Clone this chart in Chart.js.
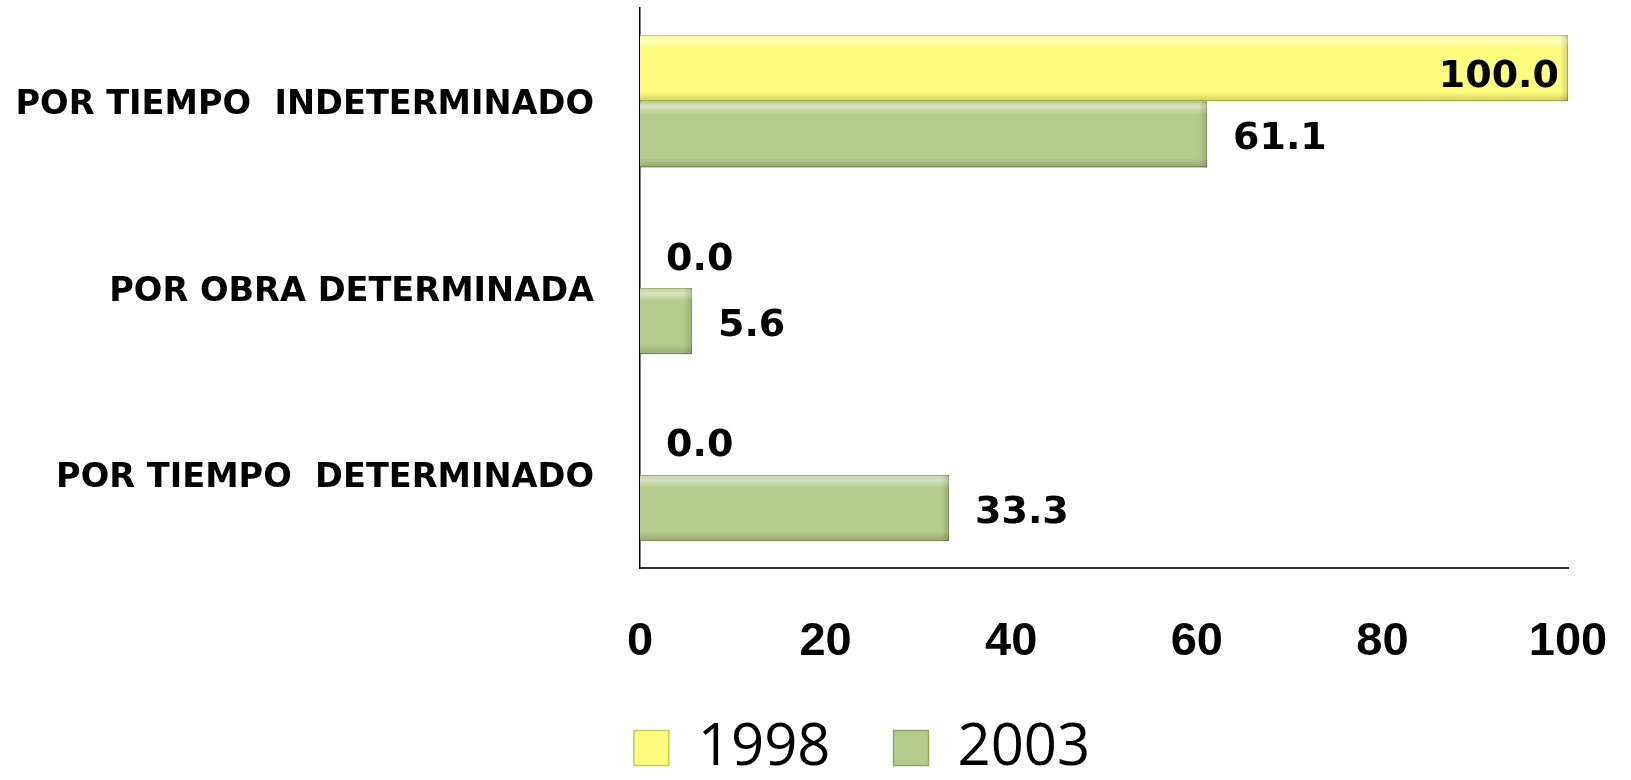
<!DOCTYPE html>
<html><head><meta charset="utf-8">
<script src="https://cdn.jsdelivr.net/npm/chart.js@4/dist/chart.umd.min.js"></script>
<style>html,body{margin:0;padding:0;background:#fff;overflow:hidden}#wrap{width:1631px;height:780px}</style>
</head><body><div id="wrap"><canvas id="c" width="1631" height="780"></canvas></div>
<script>
const categories = ['POR TIEMPO  INDETERMINADO', 'POR OBRA DETERMINADA', 'POR TIEMPO  DETERMINADO'];
const seriesNames = ['1998', '2003'];
const values1998 = [100.0, 0.0, 0.0];
const values2003 = [61.1, 5.6, 33.3];
const xMin = 0, xMax = 100, xStep = 20;

const bevel = {
  id: 'bevel',
  afterDatasetsDraw(chart) {
    const ctx = chart.ctx;
    chart.data.datasets.forEach((ds, di) => {
      chart.getDatasetMeta(di).data.forEach(bar => {
        const p = bar.getProps(['x', 'y', 'base', 'height'], true);
        const l = Math.min(p.x, p.base), r = Math.max(p.x, p.base), w = r - l;
        if (w < 1) return;
        const t = p.y - p.height / 2, h = p.height;
        ctx.save();
        const g = ctx.createLinearGradient(0, t, 0, t + h);
        g.addColorStop(0, 'rgba(255,255,255,0.10)');
        g.addColorStop(0.08, 'rgba(255,255,255,0.45)');
        g.addColorStop(0.2, 'rgba(255,255,255,0.0)');
        g.addColorStop(0.86, 'rgba(0,0,0,0.0)');
        g.addColorStop(1, 'rgba(0,0,0,0.18)');
        ctx.fillStyle = g;
        ctx.fillRect(l, t, w, h);
        const g2 = ctx.createLinearGradient(r - 8, 0, r, 0);
        g2.addColorStop(0, 'rgba(0,0,0,0)');
        g2.addColorStop(1, 'rgba(0,0,0,0.15)');
        ctx.fillStyle = g2;
        ctx.fillRect(r - 8, t, 8, h);
        ctx.restore();
      });
    });
  }
};

const valueLabels = {
  id: 'valueLabels',
  afterDatasetsDraw(chart) {
    const ctx = chart.ctx;
    ctx.save();
    ctx.font = 'bold 38px "DejaVu Sans"';
    ctx.fillStyle = '#000';
    ctx.textBaseline = 'middle';
    chart.data.datasets.forEach((ds, di) => {
      chart.getDatasetMeta(di).data.forEach((bar, i) => {
        const v = ds.data[i];
        const txt = v.toFixed(1);
        if (bar.x > chart.chartArea.right - 150) {
          ctx.textAlign = 'right';
          ctx.fillText(txt, bar.x - 9, bar.y + 9);
        } else {
          ctx.textAlign = 'left';
          ctx.fillText(txt, bar.x + 26, bar.y + 5);
        }
      });
    });
    ctx.restore();
  }
};

const legendPlace = {
  id: 'legendPlace',
  afterLayout(chart) {
    const lg = chart.legend;
    if (!lg) return;
    lg.left += 78; lg.right += 78;
    lg.top = 656; lg.bottom = 656 + 131; lg.height = 131;
  }
};

new Chart(document.getElementById('c'), {
  type: 'bar',
  data: {
    labels: categories,
    datasets: [
      { label: seriesNames[0], data: values1998, backgroundColor: '#FCFC7E', borderColor: '#C9C94E', borderWidth: 1.5 },
      { label: seriesNames[1], data: values2003, backgroundColor: '#B5CB8B', borderColor: '#8EA660', borderWidth: 1.5 }
    ]
  },
  options: {
    indexAxis: 'y',
    responsive: false,
    animation: false,
    devicePixelRatio: 1,
    datasets: { bar: { categoryPercentage: 0.71, barPercentage: 1.0 } },
    layout: { padding: { left: 0, right: 63, top: 8, bottom: 0 } },
    plugins: {
      tooltip: { enabled: false },
      legend: {
        position: 'bottom',
        align: 'center',
        maxHeight: 60,
        labels: {
          font: { family: '"Open Sans"', size: 58 },
          color: '#000',
          boxWidth: 35,
          boxHeight: 35,
          padding: 63
        }
      }
    },
    scales: {
      x: {
        min: xMin, max: xMax,
        ticks: { stepSize: xStep, color: '#000', font: { family: '"Liberation Sans"', weight: 'bold', size: 47 }, padding: 38 },
        grid: { display: false },
        border: { display: true, color: '#333', width: 2 },
        afterFit(s) { s.height = 152; s.paddingLeft = 0; s.paddingRight = 0; }
      },
      y: {
        ticks: { color: '#000', font: { family: '"DejaVu Sans"', weight: 'bold', size: 33.6 }, padding: 38, labelOffset: 4 },
        grid: { display: false },
        border: { display: true, color: '#000', width: 1.5 },
        afterFit(s) { s.width = 640; s.paddingTop = 0; s.paddingBottom = 0; }
      }
    }
  },
  plugins: [legendPlace, bevel, valueLabels]
});
</script>
</body></html>
